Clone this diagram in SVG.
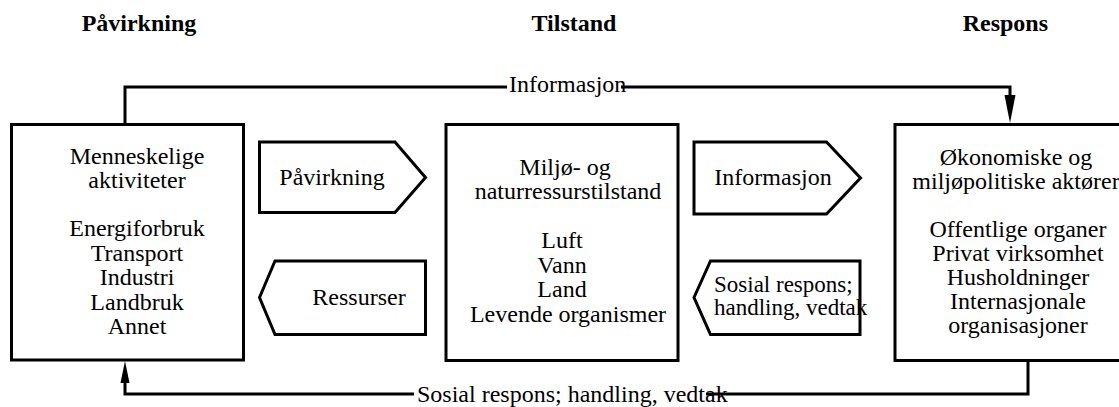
<svg xmlns="http://www.w3.org/2000/svg" width="1119" height="407" viewBox="0 0 1119 407">
<style>
  .t { font-family: "Liberation Serif", "Times New Roman", serif; font-size: 24px; fill: #000; }
  .c { text-anchor: middle; }
  .h { font-weight: bold; }
  .s { font-size: 23px; }
  .box { fill: #fff; stroke: #000; stroke-width: 3; }
  .ln { fill: none; stroke: #000; stroke-width: 3; }
  .ah { fill: #000; stroke: none; }
</style>
<rect width="1119" height="407" fill="#fff"/>
<g id="headers">
  <text class="t h c" x="139" y="31">Påvirkning</text>
  <text class="t h c" x="574" y="31">Tilstand</text>
  <text class="t h" x="1048" y="31" text-anchor="end">Respons</text>
</g>
<g id="connectors">
  <path class="ln" d="M125,124 V87 H1010 V97"/>
  <polygon class="ah" points="1004.5,95 1015.5,95 1010,123"/>
  <rect x="507" y="76" width="114" height="22" fill="#fff"/>
  <text class="t" x="509" y="92">Informasjon</text>
  <path class="ln" d="M1028,360 V394 H125 V382"/>
  <polygon class="ah" points="120.5,383 129.5,383 125,361"/>
  <rect x="414" y="384" width="292" height="22" fill="#fff"/>
  <text class="t" x="417" y="402">Sosial respons; handling, vedtak</text>
</g>
<g id="node-pavirkning">
  <rect class="box" x="11.5" y="124.5" width="232" height="235.5"/>
  <text class="t c" x="137" y="164">Menneskelige</text>
  <text class="t c" x="137" y="188">aktiviteter</text>
  <text class="t c" x="137" y="236">Energiforbruk</text>
  <text class="t c" x="137" y="260.5">Transport</text>
  <text class="t c" x="137" y="285">Industri</text>
  <text class="t c" x="137" y="309.5">Landbruk</text>
  <text class="t c" x="137" y="334">Annet</text>
</g>
<g id="node-tilstand">
  <rect class="box" x="446" y="124.5" width="232" height="236"/>
  <text class="t c" x="565" y="175">Miljø- og</text>
  <text class="t c" x="568" y="199">naturressurstilstand</text>
  <text class="t c" x="562" y="248">Luft</text>
  <text class="t c" x="562" y="272.5">Vann</text>
  <text class="t c" x="562" y="297">Land</text>
  <text class="t c" x="568" y="321.5">Levende organismer</text>
</g>
<g id="node-respons">
  <rect class="box" x="895" y="124.5" width="240" height="236"/>
  <text class="t c" x="1016" y="165">Økonomiske og</text>
  <text class="t c" x="1016" y="189">miljøpolitiske aktører</text>
  <text class="t c" x="1018" y="237">Offentlige organer</text>
  <text class="t c" x="1018" y="261">Privat virksomhet</text>
  <text class="t c" x="1018" y="285">Husholdninger</text>
  <text class="t c" x="1018" y="309">Internasjonale</text>
  <text class="t c" x="1018" y="333">organisasjoner</text>
</g>
<g id="arrow-pavirkning">
  <polygon class="box" points="259.5,142 395,142 425.5,177.5 395,212.5 259.5,212.5"/>
  <text class="t c" x="332" y="185">Påvirkning</text>
</g>
<g id="arrow-ressurser">
  <polygon class="box" points="259.5,297.5 275,261 425.5,261 425.5,334.5 275,334.5"/>
  <text class="t c" x="359" y="305">Ressurser</text>
</g>
<g id="arrow-informasjon">
  <polygon class="box" points="694,142 826.5,142 860.5,178 826.5,214 694,214"/>
  <text class="t c" x="773" y="185">Informasjon</text>
</g>
<g id="arrow-sosial">
  <polygon class="box" points="694,297.5 710.5,261 860,261 860,334.5 710.5,334.5"/>
  <text class="t s" x="714" y="292">Sosial respons;</text>
  <text class="t s" x="714" y="315">handling, vedtak</text>
</g>
</svg>
